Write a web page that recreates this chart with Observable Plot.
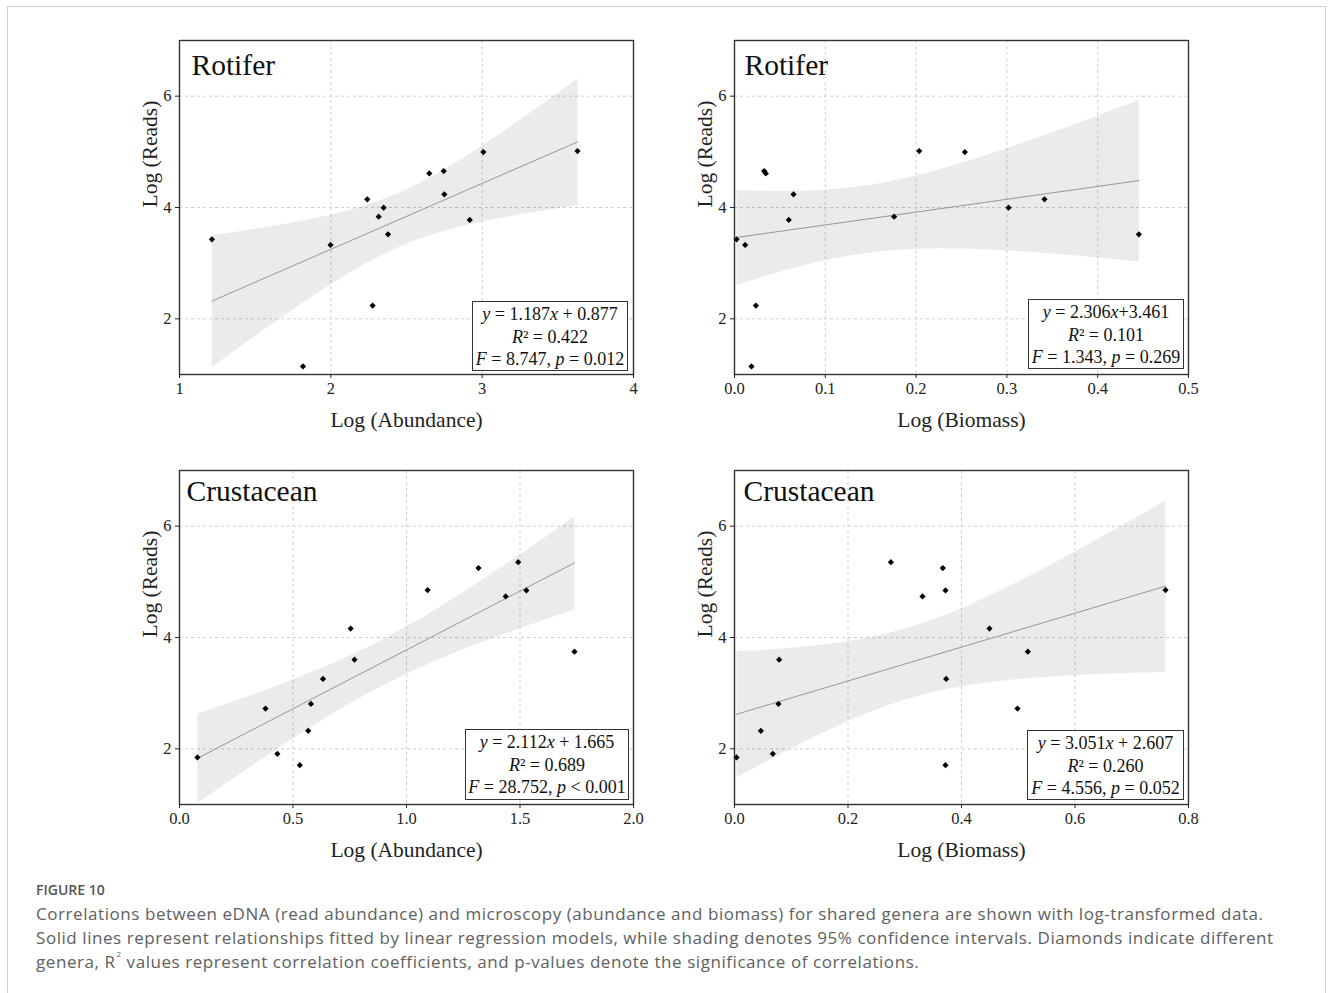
<!DOCTYPE html>
<html>
<head>
<meta charset="utf-8">
<script src="https://cdn.jsdelivr.net/npm/d3@7"></script>
<script src="https://cdn.jsdelivr.net/npm/@observablehq/plot@0.6"></script>
<style>
  html, body { margin: 0; padding: 0; }
  body { width: 1331px; height: 993px; overflow: hidden; background: #fff; position: relative; }
  #outer { position: absolute; left: 7px; top: 6px; width: 1319px; height: 1010px; border: 1px solid #cfcfcf; box-sizing: border-box; }
  .panel { position: absolute; }
  .panel svg { display: block; overflow: visible; }
  .panel svg g[aria-label$="tick label"] { font-size: 16.5px !important; }
  .panel svg g[aria-label$="tick label"] text { font-size: 16.5px !important; }
  .stat { position: absolute; box-sizing: border-box; border: 1px solid #333; background: #fff;
          font-family: "Liberation Serif", serif; font-size: 18px; line-height: 22.5px;
          text-align: center; color: #111; padding-top: 1px; white-space: nowrap; }
  #figlabel { position: absolute; left: 36px; top: 880px; font-family: "Open Sans", sans-serif; font-size: 14px; line-height: 20px; font-weight: 600; color: #555; }
  #caption { position: absolute; left: 36px; top: 902px; font-family: "Open Sans", sans-serif; font-size: 17px; line-height: 24px; letter-spacing: 0.56px; color: #606060; white-space: nowrap; }
  #caption sup { font-size: 8px; line-height: 0; vertical-align: baseline; position: relative; top: -11px; margin-left: 1px; }
</style>
</head>
<body>
<div id="outer"></div>
<div id="root"></div>
<div id="figlabel">FIGURE 10</div>
<div id="caption">
Correlations between eDNA (read abundance) and microscopy (abundance and biomass) for shared genera are shown with log-transformed data.<br>
Solid lines represent relationships fitted by linear regression models, while shading denotes 95% confidence intervals. Diamonds indicate different<br>
genera, R<sup>2</sup> values represent correlation coefficients, and p-values denote the significance of correlations.
</div>
<script>
// ---- Data ----
const rotiferAbundance = [1.214, 1.816, 1.998, 2.241, 2.276, 2.316, 2.349, 2.378, 2.651, 2.746, 2.750, 2.918, 3.008, 3.630];
const rotiferBiomass   = [0.0022, 0.0187, 0.0117, 0.3414, 0.0235, 0.1758, 0.3018, 0.4453, 0.0345, 0.0327, 0.065, 0.0598, 0.2537, 0.2034];
const rotiferReads     = [3.429, 1.145, 3.327, 4.147, 2.239, 3.836, 3.997, 3.519, 4.613, 4.655, 4.236, 3.776, 4.996, 5.013];

const crustaceanAbundance = [0.079, 0.379, 0.431, 0.530, 0.567, 0.579, 0.632, 0.754, 0.771, 1.093, 1.317, 1.437, 1.492, 1.528, 1.740];
const crustaceanBiomass   = [0.0035, 0.4987, 0.0675, 0.3718, 0.0464, 0.0775, 0.373, 0.4493, 0.0787, 0.7595, 0.3671, 0.3313, 0.2755, 0.3718, 0.5169];
const crustaceanReads     = [1.845, 2.723, 1.910, 1.707, 2.323, 2.807, 3.256, 4.160, 3.602, 4.852, 5.247, 4.738, 5.354, 4.846, 3.746];

const yTicks = [2, 4, 6];
const abundanceTicksRot = [1, 2, 3, 4];
const biomassTicksRot = [0, 0.1, 0.2, 0.3, 0.4, 0.5];
const abundanceTicksCru = [0, 0.5, 1.0, 1.5, 2.0];
const biomassTicksCru = [0, 0.2, 0.4, 0.6, 0.8];

const statsRotAbund = ["<i>y</i> = 1.187<i>x</i> + 0.877", "<i>R</i>² = 0.422", "<i>F</i> = 8.747, <i>p</i> = 0.012"];
const statsRotBio   = ["<i>y</i> = 2.306<i>x</i>+3.461", "<i>R</i>² = 0.101", "<i>F</i> = 1.343, <i>p</i> = 0.269"];
const statsCruAbund = ["<i>y</i> = 2.112<i>x</i> + 1.665", "<i>R</i>² = 0.689", "<i>F</i> = 28.752, <i>p</i> &lt; 0.001"];
const statsCruBio   = ["<i>y</i> = 3.051<i>x</i> + 2.607", "<i>R</i>² = 0.260", "<i>F</i> = 4.556, <i>p</i> = 0.052"];

// ---- Panels ----
function makePanel(xs, ys, cfg) {
  const data = xs.map((x, i) => ({x, y: ys[i]}));
  const fmt = cfg.format ? d3.format(cfg.format) : (d => String(d));
  return Plot.plot({
    width: 560, height: 410,
    marginLeft: 79, marginRight: 27, marginTop: 10, marginBottom: 66,
    style: {fontFamily: '"Liberation Serif", serif', fontSize: "16px", color: "#222", background: "transparent"},
    x: {domain: cfg.domain},
    y: {domain: [1, 7]},
    marks: [
      Plot.gridX(cfg.ticks, {stroke: "#cfcfcf", strokeOpacity: 1, strokeDasharray: "3,3"}),
      Plot.gridY(yTicks, {stroke: "#cfcfcf", strokeOpacity: 1, strokeDasharray: "3,3"}),
      Plot.linearRegressionY(data, {x: "x", y: "y", stroke: "#8c8c8c", strokeWidth: 0.9, fill: "#000", fillOpacity: 0.08}),
      Plot.dot(data, {x: "x", y: "y", symbol: "diamond2", r: 2.8, fill: "#000", stroke: "none"}),
      Plot.frame({stroke: "#333", strokeWidth: 1.4}),
      Plot.axisX(cfg.ticks, {tickSize: 4, tickPadding: 4, tickFormat: fmt, label: null, fontSize: 16.5, fill: "#222"}),
      Plot.axisY(yTicks, {tickSize: 4, tickPadding: 4, tickFormat: d => String(d), label: null, fontSize: 16.5, fill: "#222"}),
      Plot.text([cfg.title], {text: d => d, frameAnchor: "top-left", textAnchor: "start", lineAnchor: "top", dx: cfg.tdx, dy: cfg.tdy, fontSize: 29.5, fill: "#111"}),
      Plot.text([cfg.xLabel], {text: d => d, frameAnchor: "bottom", dy: 52, fontSize: 21.5, fill: "#222"}),
      Plot.text(["Log (Reads)"], {text: d => d, frameAnchor: "left", rotate: -90, dx: -29, fontSize: 21.5, fill: "#222"})
    ]
  });
}

const panels = [
  {xs: rotiferAbundance, ys: rotiferReads, left: 100, top: 30, stats: statsRotAbund, box: [472, 301, 156, 70],
   cfg: {domain: [1, 4], ticks: abundanceTicksRot, format: null, title: "Rotifer", xLabel: "Log (Abundance)", tdx: 12, tdy: 14}},
  {xs: rotiferBiomass, ys: rotiferReads, left: 655, top: 30, stats: statsRotBio, box: [1028, 299, 156, 70],
   cfg: {domain: [0, 0.5], ticks: biomassTicksRot, format: ".1f", title: "Rotifer", xLabel: "Log (Biomass)", tdx: 10, tdy: 14}},
  {xs: crustaceanAbundance, ys: crustaceanReads, left: 100, top: 460, stats: statsCruAbund, box: [465, 729, 164, 71],
   cfg: {domain: [0, 2], ticks: abundanceTicksCru, format: ".1f", title: "Crustacean", xLabel: "Log (Abundance)", tdx: 7, tdy: 10}},
  {xs: crustaceanBiomass, ys: crustaceanReads, left: 655, top: 460, stats: statsCruBio, box: [1027, 730, 157, 70],
   cfg: {domain: [0, 0.8], ticks: biomassTicksCru, format: ".1f", title: "Crustacean", xLabel: "Log (Biomass)", tdx: 9, tdy: 10}}
];

const root = document.getElementById("root");
for (const p of panels) {
  const div = document.createElement("div");
  div.className = "panel";
  div.style.left = p.left + "px";
  div.style.top = p.top + "px";
  div.appendChild(makePanel(p.xs, p.ys, p.cfg));
  root.appendChild(div);
  const box = document.createElement("div");
  box.className = "stat";
  box.style.left = p.box[0] + "px";
  box.style.top = p.box[1] + "px";
  box.style.width = p.box[2] + "px";
  box.style.height = p.box[3] + "px";
  box.innerHTML = p.stats.join("<br>");
  root.appendChild(box);
}
</script>
</body>
</html>
